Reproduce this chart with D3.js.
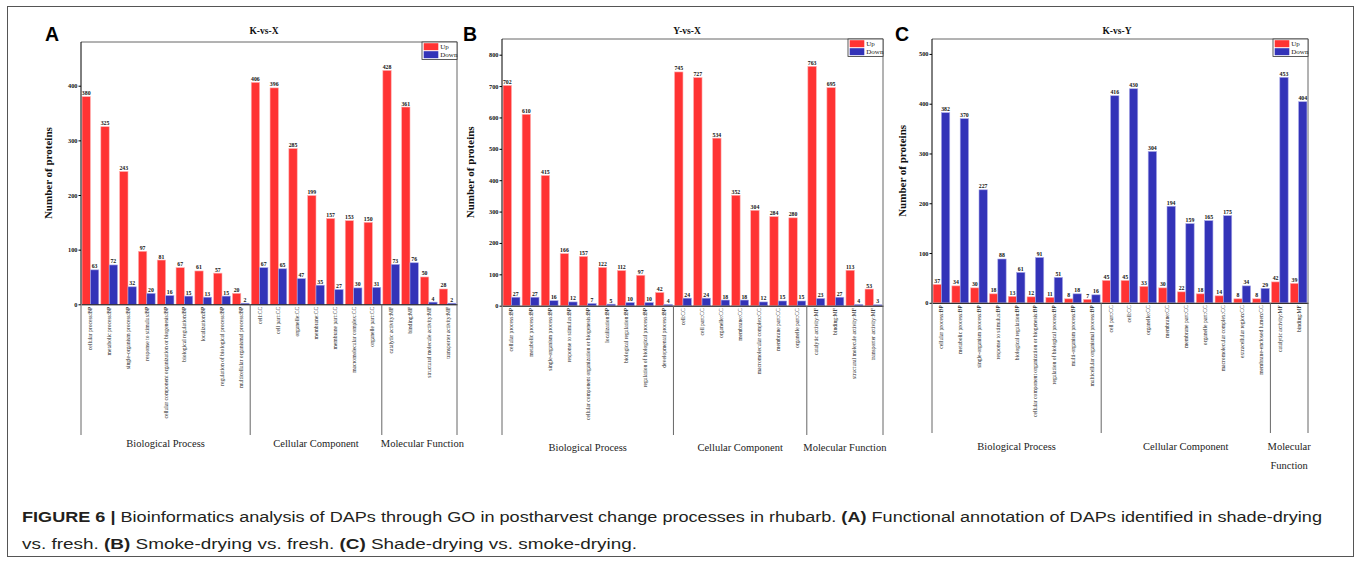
<!DOCTYPE html>
<html><head><meta charset="utf-8">
<script src="https://cdn.jsdelivr.net/npm/d3@7"></script>
<style>body{margin:0;background:#fff}svg{display:block}</style>
</head><body>
<svg id="chart" width="1359" height="561"></svg>
<script>
// ---------- DATA ----------
const catsA = ["cellular process:BP","metabolic process:BP","single-organism process:BP","response to stimulus:BP","cellular component organization or biogenesis:BP","biological regulation:BP","localization:BP","regulation of biological process:BP","multicellular organismal process:BP","cell:CC","cell part:CC","organelle:CC","membrane:CC","membrane part:CC","macromolecular complex:CC","organelle part:CC","catalytic activity:MF","binding:MF","structural molecule activity:MF","transporter activity:MF"];
const upA = [380,325,243,97,81,67,61,57,20,406,396,285,199,157,153,150,428,361,50,28];
const downA = [63,72,32,20,16,15,13,15,2,67,65,47,35,27,30,31,73,76,4,2];
const groupsA = [9,7,4];

const catsB = ["cellular process:BP","metabolic process:BP","single-organism process:BP","response to stimulus:BP","cellular component organization or biogenesis:BP","localization:BP","biological regulation:BP","regulation of biological process:BP","developmental process:BP","cell:CC","cell part:CC","organelle:CC","membrane:CC","macromolecular complex:CC","membrane part:CC","organelle part:CC","catalytic activity:MF","binding:MF","structural molecule activity:MF","transporter activity:MF"];
const upB = [702,610,415,166,157,122,112,97,42,745,727,534,352,304,284,280,763,695,113,53];
const downB = [27,27,16,12,7,5,10,10,4,24,24,18,18,12,15,15,23,27,4,3];
const groupsB = [9,7,4];

const catsC = ["cellular process:BP","metabolic process:BP","single-organism process:BP","response to stimulus:BP","biological regulation:BP","cellular component organization or biogenesis:BP","regulation of biological process:BP","multi-organism process:BP","multicellular organismal process:BP","cell part:CC","cell:CC","organelle:CC","membrane:CC","membrane part:CC","organelle part:CC","macromolecular complex:CC","extracellular region:CC","membrane-enclosed lumen:CC","catalytic activity:MF","binding:MF"];
const upC = [37,34,30,18,13,12,11,8,7,45,45,33,30,22,18,14,8,8,42,39];
const downC = [382,370,227,88,61,91,51,18,16,416,430,304,194,159,165,175,34,29,453,404];
const groupsC = [9,9,2];

const groupNames = ["Biological Process","Cellular Component","Molecular Function"];
const seriesNames = ["Up","Down"];
const titles = ["K-vs-X","Y-vs-X","K-vs-Y"];
const letters = ["A","B","C"];
const ticksA = [0,100,200,300,400];
const ticksB = [0,100,200,300,400,500,600,700,800];
const ticksC = [0,100,200,300,400,500];

// ---------- DRAW ----------
const svg = d3.select("#chart");
const RED = "#ff3333", BLUE = "#3333b8";
const SERIF = "'Liberation Serif','Times New Roman',serif";

svg.append("rect").attr("x",7.5).attr("y",6.5).attr("width",1346).attr("height",550)
  .attr("fill","none").attr("stroke","#555").attr("stroke-width",1);

const panels = [
  {cats:catsA, up:upA, down:downA, groups:groupsA, ticks:ticksA, max:480,
   left:81, right:457, top:42, bottom:304.3, sepBottom:435, gy:[447], letterX:45, ylabX:48, titleX:264},
  {cats:catsB, up:upB, down:downB, groups:groupsB, ticks:ticksB, max:850,
   left:502, right:883, top:39, bottom:305.7, sepBottom:435, gy:[451], letterX:463, ylabX:470, titleX:687},
  {cats:catsC, up:upC, down:downC, groups:groupsC, ticks:ticksC, max:530,
   left:932, right:1308, top:39, bottom:302.8, sepBottom:433, gy:[450], letterX:895, ylabX:902, titleX:1117, splitMF:true}
];

panels.forEach((p, pi) => {
  const g = svg.append("g");
  const x = d3.scaleBand().domain(p.cats).range([p.left, p.right]).paddingInner(0).paddingOuter(0);
  const xs = d3.scaleBand().domain(seriesNames).range([0, x.bandwidth()]).paddingOuter(0.125).paddingInner(0);
  const y = d3.scaleLinear().domain([0, p.max]).range([p.bottom, p.top]);

  // frame (top, right)
  g.append("path").attr("d", `M${p.left},${p.top}H${p.right}V${p.bottom}`)
    .attr("fill","none").attr("stroke","#666").attr("stroke-width",1);

  // bars
  const data = p.cats.map((c,i)=>({c, vals:[{s:"Up",v:p.up[i]},{s:"Down",v:p.down[i]}]}));
  const cg = g.selectAll("g.cat").data(data).join("g").attr("transform", d=>`translate(${x(d.c)},0)`);
  cg.selectAll("rect").data(d=>d.vals).join("rect")
    .attr("x", d=>xs(d.s)).attr("width", xs.bandwidth())
    .attr("y", d=>y(d.v)).attr("height", d=>y(0)-y(d.v))
    .attr("fill", d=>d.s==="Up"?RED:BLUE)
    .attr("stroke", d=>d.s==="Up"?"#ffb0b0":"#a8a8e8").attr("stroke-width",0.6);
  cg.selectAll("text").data(d=>d.vals).join("text")
    .attr("x", d=>xs(d.s)+xs.bandwidth()/2).attr("y", d=>y(d.v)-1.5)
    .attr("text-anchor","middle").attr("font-family",SERIF).attr("font-weight","bold")
    .attr("font-size","5.8px").attr("fill","#111").text(d=>d.v);

  // y axis
  const ya = g.append("g").attr("transform",`translate(${p.left},0)`)
    .call(d3.axisLeft(y).tickValues(p.ticks).tickSize(2.5).tickPadding(1).tickFormat(d3.format("d")));
  ya.select(".domain").attr("d", `M0,${p.top}V${p.bottom}`).attr("stroke","#000");
  ya.selectAll("text").attr("font-family",SERIF).attr("font-weight","bold").attr("font-size","6.3px").attr("fill","#111");
  ya.selectAll("line").attr("stroke","#000");

  // x axis
  const xa = g.append("g").attr("transform",`translate(0,${p.bottom})`)
    .call(d3.axisBottom(x).tickSize(0).tickPadding(0));
  xa.select(".domain").attr("stroke","#000");
  xa.selectAll("text")
    .attr("y", 0).attr("x", 0)
    .attr("transform", `translate(0,2.5) rotate(-90)`)
    .attr("dy","0.35em")
    .attr("text-anchor","end").attr("font-family",SERIF).attr("font-size","5.6px").attr("fill","#222");

  // group separators and group labels
  let idx = 0;
  const bounds = [0];
  p.groups.forEach(n => { idx += n; bounds.push(idx); });
  const bx = i => i < p.cats.length ? x(p.cats[i]) : p.right;
  bounds.forEach(b => {
    g.append("line").attr("x1", bx(b)).attr("x2", bx(b)).attr("y1", p.bottom).attr("y2", p.sepBottom)
      .attr("stroke","#666").attr("stroke-width",1);
  });
  p.groups.forEach((n, gi) => {
    const cx = (bx(bounds[gi]) + bx(bounds[gi+1]))/2;
    const t = g.append("text").attr("x", cx + (pi===0&&gi===2?3:0)).attr("y", p.gy[0])
      .attr("text-anchor","middle").attr("font-family",SERIF).attr("font-size","10.5px").attr("fill","#222");
    if (p.splitMF && gi===2) {
      const parts = groupNames[gi].split(" ");
      t.append("tspan").attr("x", cx).text(parts[0]);
      t.append("tspan").attr("x", cx).attr("dy", 19).text(parts[1]);
    } else t.text(groupNames[gi]);
  });

  // title
  g.append("text").attr("x", p.titleX).attr("y", 34).attr("text-anchor","middle")
    .attr("font-family",SERIF).attr("font-weight","bold").attr("font-size","9.5px").attr("fill","#111")
    .text(titles[pi]);

  // panel letter
  g.append("text").attr("x", p.letterX).attr("y", 40.5)
    .attr("font-family","'Liberation Sans',Arial,sans-serif").attr("font-weight","bold")
    .attr("font-size","19.5px").attr("fill","#000").text(letters[pi]);

  // y label
  g.append("text").attr("transform", `translate(${p.ylabX + 4},${(p.top+p.bottom)/2}) rotate(-90)`)
    .attr("text-anchor","middle").attr("font-family",SERIF).attr("font-weight","bold")
    .attr("font-size","11px").attr("fill","#111").text("Number of proteins");

  // legend
  const lw = 35, lh = 17.5;
  const lg = g.append("g").attr("transform", `translate(${p.right - lw},${p.top})`);
  lg.append("rect").attr("width", lw).attr("height", lh).attr("fill","#fff").attr("stroke","#333").attr("stroke-width",0.8);
  seriesNames.forEach((s, si) => {
    lg.append("rect").attr("x",1.7).attr("y",1.2 + si*8).attr("width",14.6).attr("height",7)
      .attr("fill", si===0?RED:BLUE);
    lg.append("text").attr("x",18.3).attr("y",7.2 + si*8).attr("font-family",SERIF)
      .attr("font-size","7px").attr("fill","#222").text(s);
  });
});

// caption
const SANS = "'Liberation Sans Narrow','Liberation Sans',Arial,sans-serif";
const cap1 = svg.append("text").attr("x",22).attr("y",522).attr("font-family",SANS).attr("font-size","15.5px")
  .attr("fill","#231f20").attr("textLength",1300).attr("lengthAdjust","spacingAndGlyphs");
[["FIGURE 6 |",true],[" Bioinformatics analysis of DAPs through GO in postharvest change processes in rhubarb. ",false],["(A)",true],[" Functional annotation of DAPs identified in shade-drying",false]]
  .forEach(([t,b]) => cap1.append("tspan").attr("font-weight", b?"bold":"normal").text(t));
const cap2 = svg.append("text").attr("x",22).attr("y",549).attr("font-family",SANS).attr("font-size","15.5px")
  .attr("fill","#231f20").attr("textLength",615).attr("lengthAdjust","spacingAndGlyphs");
[["vs. fresh. ",false],["(B)",true],[" Smoke-drying vs. fresh. ",false],["(C)",true],[" Shade-drying vs. smoke-drying.",false]]
  .forEach(([t,b]) => cap2.append("tspan").attr("font-weight", b?"bold":"normal").text(t));
</script>
</body></html>
